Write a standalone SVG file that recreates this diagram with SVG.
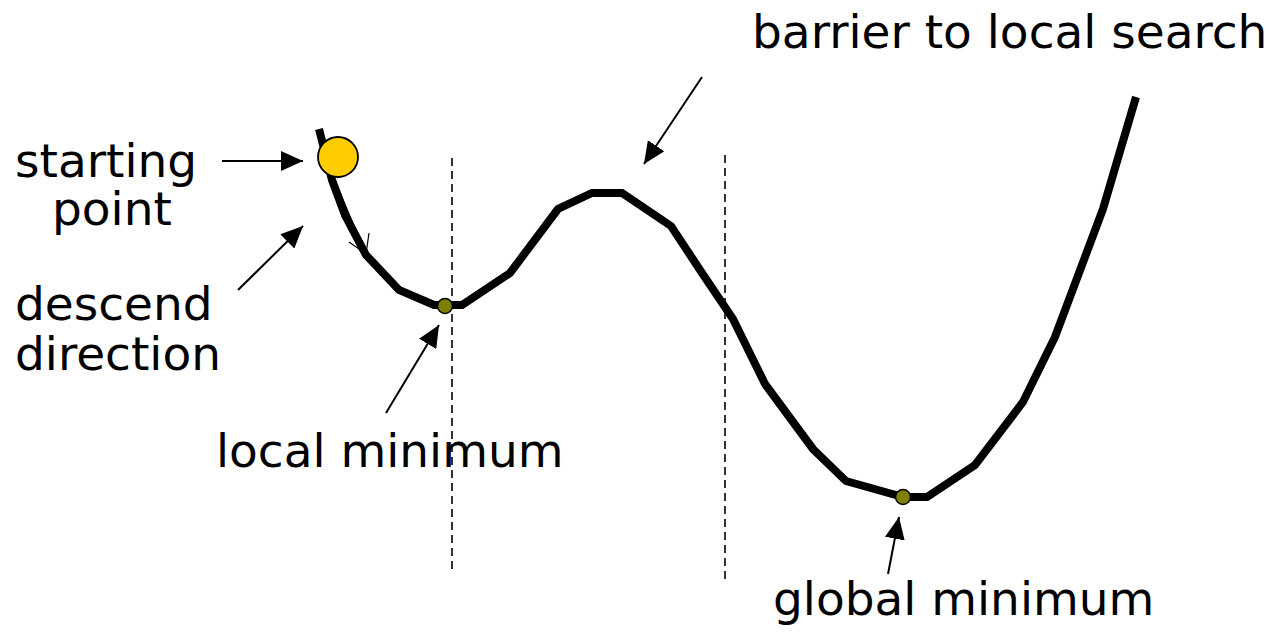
<svg xmlns="http://www.w3.org/2000/svg" width="1284" height="632" viewBox="0 0 1284 632">
<style>
text{font-family:"DejaVu Sans","Verdana",sans-serif;font-size:47px;fill:#000}
.curve{fill:none;stroke:#000;stroke-width:8;stroke-linejoin:miter}
.dash{fill:none;stroke:#000;stroke-width:1.6;stroke-dasharray:8,5}
.ptr{fill:none;stroke:#000;stroke-width:2}
.thin{fill:none;stroke:#000;stroke-width:1.2}
.dot{fill:#808000;stroke:#000;stroke-width:1.5}
</style>
<defs>
<marker id="ah" viewBox="0 0 22 20" refX="22" refY="10" markerWidth="22" markerHeight="20" markerUnits="userSpaceOnUse" orient="auto">
<path d="M0,0 L22,10 L0,20 Z" fill="#000"/>
</marker>
</defs>
<g id="landscape">
<polyline class="curve" points="319,129 332,180 345,215 366,255 399,290 434,305 462,305 510,273 558,209 592,193 622,193 671,226 702,273 733,319 765,384 813,449 846,481 903,497 927,497 975,465 1023,402 1055,337 1103,209 1136,97"/>
</g>
<g id="dividers">
<line class="dash" x1="452" y1="158" x2="452" y2="571"/>
<line class="dash" x1="725" y1="155" x2="725" y2="581"/>
</g>
<g id="start-point">
<circle cx="338" cy="157" r="20" fill="#FFCC00" stroke="#000" stroke-width="1.8"/>
</g>
<g id="local-min">
<circle class="dot" cx="445" cy="306" r="7.5"/>
</g>
<g id="global-min">
<circle class="dot" cx="903" cy="497" r="7.5"/>
</g>
<g id="descent-arrow">
<polyline class="thin" points="333,176 366,254"/>
<polyline class="thin" points="349,242 366,254 369,233"/>
</g>
<g id="connectors">
<line class="ptr" x1="222" y1="161" x2="303" y2="161" marker-end="url(#ah)"/>
<line class="ptr" x1="238" y1="290" x2="303" y2="226" marker-end="url(#ah)"/>
<line class="ptr" x1="702" y1="77" x2="644" y2="164" marker-end="url(#ah)"/>
<line class="ptr" x1="386" y1="413" x2="439" y2="325" marker-end="url(#ah)"/>
<line class="ptr" x1="888" y1="574" x2="899" y2="517" marker-end="url(#ah)"/>
</g>
<g id="labels">
<text x="15" y="177">starting</text>
<text x="52" y="225">point</text>
<text x="15" y="320">descend</text>
<text x="15" y="370">direction</text>
<text x="216" y="467">local minimum</text>
<text x="752" y="48">barrier to local search</text>
<text x="773" y="615">global minimum</text>
</g>
</svg>
